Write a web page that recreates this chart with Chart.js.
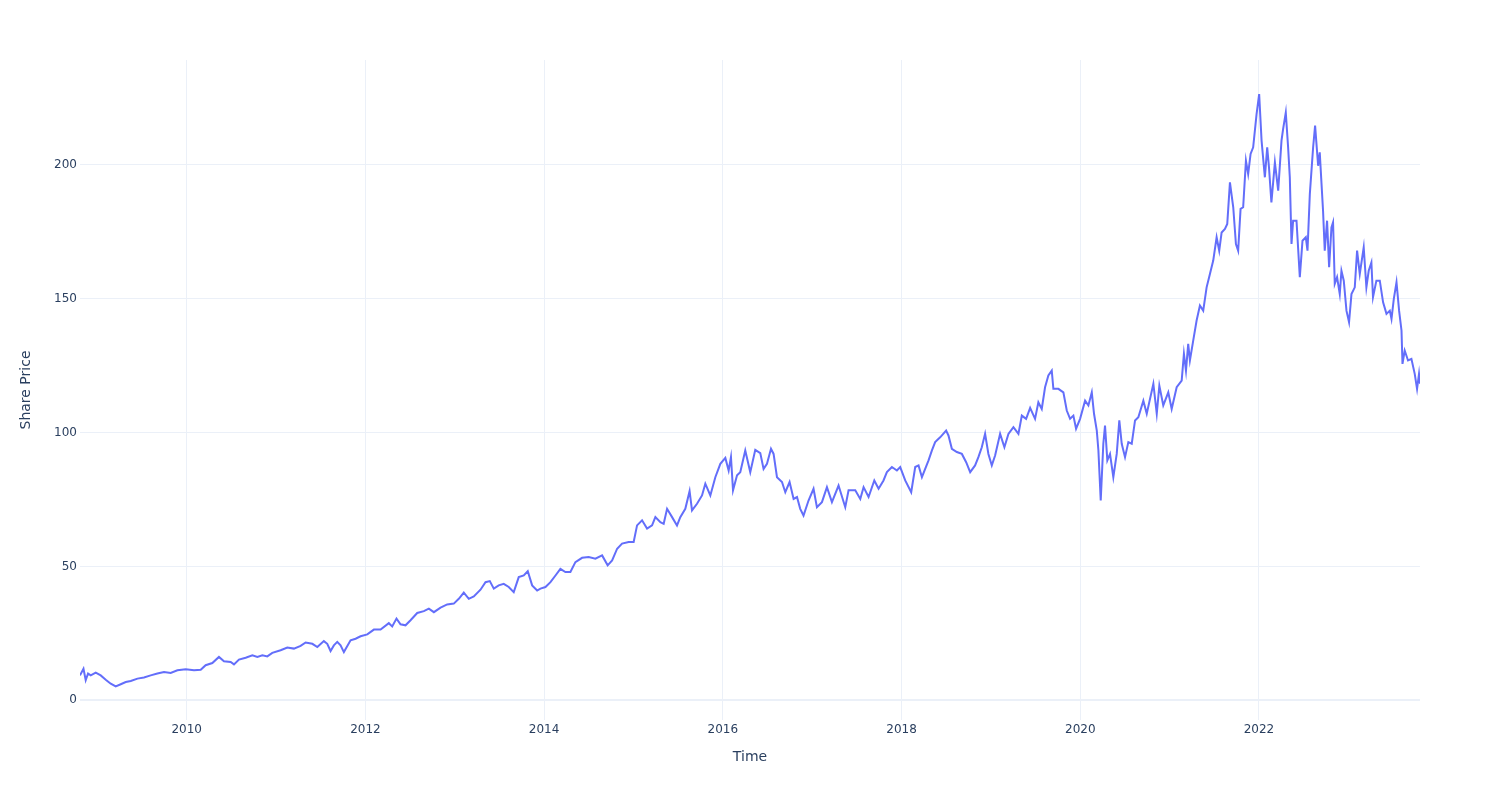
<!DOCTYPE html>
<html>
<head>
<meta charset="utf-8">
<script src="https://cdn.jsdelivr.net/npm/chart.js@4/dist/chart.umd.min.js"></script>
<style>
  html, body { margin: 0; padding: 0; background: #fff; }
</style>
</head>
<body>
<canvas id="priceChart" width="1500" height="800"></canvas>
<script>
// time as decimal years, share price
const years = [
  2008.806, 2008.845, 2008.870, 2008.896, 2008.926, 2008.982, 2009.038, 2009.094, 2009.150, 2009.206,
  2009.262, 2009.318, 2009.374, 2009.449, 2009.522, 2009.597, 2009.672, 2009.746, 2009.821, 2009.896,
  2009.989, 2010.082, 2010.157, 2010.212, 2010.287, 2010.361, 2010.417, 2010.492, 2010.529, 2010.585,
  2010.660, 2010.735, 2010.791, 2010.847, 2010.902, 2010.958, 2011.051, 2011.126, 2011.200, 2011.275,
  2011.331, 2011.406, 2011.462, 2011.535, 2011.573, 2011.610, 2011.647, 2011.685, 2011.722, 2011.759,
  2011.834, 2011.890, 2011.946, 2012.021, 2012.095, 2012.170, 2012.262, 2012.300, 2012.348, 2012.393,
  2012.449, 2012.505, 2012.580, 2012.654, 2012.710, 2012.766, 2012.841, 2012.915, 2012.989, 2013.045,
  2013.101, 2013.157, 2013.213, 2013.288, 2013.344, 2013.392, 2013.437, 2013.492, 2013.548, 2013.604,
  2013.660, 2013.716, 2013.772, 2013.817, 2013.866, 2013.922, 2013.959, 2014.015, 2014.071, 2014.127,
  2014.182, 2014.238, 2014.294, 2014.350, 2014.425, 2014.499, 2014.574, 2014.649, 2014.711, 2014.761,
  2014.817, 2014.872, 2014.946, 2015.002, 2015.040, 2015.096, 2015.152, 2015.208, 2015.245, 2015.301,
  2015.338, 2015.376, 2015.432, 2015.487, 2015.524, 2015.580, 2015.628, 2015.655, 2015.711, 2015.767,
  2015.804, 2015.860, 2015.916, 2015.972, 2016.028, 2016.065, 2016.091, 2016.114, 2016.159, 2016.195,
  2016.251, 2016.307, 2016.363, 2016.419, 2016.456, 2016.494, 2016.539, 2016.568, 2016.606, 2016.662,
  2016.699, 2016.747, 2016.792, 2016.830, 2016.866, 2016.903, 2016.959, 2017.015, 2017.053, 2017.109,
  2017.165, 2017.221, 2017.295, 2017.370, 2017.407, 2017.482, 2017.538, 2017.575, 2017.631, 2017.695,
  2017.743, 2017.798, 2017.836, 2017.892, 2017.948, 2017.985, 2018.041, 2018.108, 2018.153, 2018.190,
  2018.228, 2018.302, 2018.340, 2018.376, 2018.432, 2018.499, 2018.525, 2018.563, 2018.619, 2018.675,
  2018.723, 2018.768, 2018.823, 2018.860, 2018.898, 2018.935, 2018.972, 2019.010, 2019.047, 2019.103,
  2019.151, 2019.196, 2019.252, 2019.308, 2019.346, 2019.394, 2019.439, 2019.494, 2019.531, 2019.569,
  2019.606, 2019.643, 2019.681, 2019.699, 2019.755, 2019.811, 2019.849, 2019.886, 2019.923, 2019.953,
  2019.998, 2020.054, 2020.091, 2020.129, 2020.154, 2020.185, 2020.203, 2020.229, 2020.258, 2020.277,
  2020.303, 2020.333, 2020.370, 2020.408, 2020.437, 2020.464, 2020.501, 2020.538, 2020.576, 2020.613,
  2020.650, 2020.706, 2020.744, 2020.818, 2020.856, 2020.885, 2020.929, 2020.985, 2021.023, 2021.079,
  2021.135, 2021.160, 2021.183, 2021.208, 2021.227, 2021.264, 2021.302, 2021.339, 2021.376, 2021.414,
  2021.451, 2021.488, 2021.526, 2021.555, 2021.582, 2021.619, 2021.645, 2021.675, 2021.712, 2021.742,
  2021.767, 2021.794, 2021.823, 2021.854, 2021.879, 2021.906, 2021.935, 2021.973, 2022.002, 2022.029,
  2022.066, 2022.092, 2022.112, 2022.139, 2022.178, 2022.215, 2022.252, 2022.270, 2022.300, 2022.326,
  2022.345, 2022.364, 2022.382, 2022.420, 2022.457, 2022.487, 2022.524, 2022.543, 2022.569, 2022.606,
  2022.628, 2022.662, 2022.680, 2022.717, 2022.736, 2022.762, 2022.785, 2022.811, 2022.829, 2022.848,
  2022.874, 2022.904, 2022.923, 2022.949, 2022.979, 2023.008, 2023.035, 2023.072, 2023.098, 2023.128,
  2023.172, 2023.202, 2023.228, 2023.258, 2023.276, 2023.314, 2023.352, 2023.389, 2023.427, 2023.464,
  2023.483, 2023.509, 2023.539, 2023.568, 2023.595, 2023.606, 2023.631, 2023.668, 2023.706, 2023.743,
  2023.769, 2023.791, 2023.802
];

const prices = [
  9.3, 11.8, 7.5, 10.0, 9.3, 10.3, 9.3, 7.7, 6.2, 5.2,
  6.0, 6.8, 7.2, 8.1, 8.5, 9.3, 10.0, 10.6, 10.2, 11.2,
  11.6, 11.2, 11.4, 13.1, 13.9, 16.2, 14.6, 14.3, 13.4, 15.2,
  15.9, 16.8, 16.2, 16.8, 16.4, 17.7, 18.7, 19.7, 19.3, 20.3,
  21.6, 21.1, 19.9, 22.1, 21.1, 18.4, 20.5, 21.8, 20.5, 18.0,
  22.4, 23.0, 23.9, 24.6, 26.4, 26.4, 28.8, 27.6, 30.5, 28.4,
  28.0, 29.9, 32.6, 33.3, 34.2, 32.9, 34.6, 35.8, 36.1, 37.9,
  40.2, 37.9, 38.8, 41.3, 44.1, 44.5, 41.7, 42.9, 43.5, 42.3,
  40.4, 46.0, 46.6, 48.2, 42.9, 41.0, 41.7, 42.3, 44.1, 46.6,
  49.1, 47.9, 47.9, 51.6, 53.2, 53.5, 52.9, 54.1, 50.4, 52.2,
  56.6, 58.5, 59.1, 59.1, 65.3, 67.2, 64.1, 65.3, 68.4, 66.5,
  65.9, 71.5, 68.4, 65.3, 68.4, 71.5, 78.1, 70.9, 73.4, 76.5,
  80.9, 76.5, 83.3, 88.3, 90.5, 85.8, 90.8, 78.4, 84.0, 85.2,
  93.3, 85.2, 93.5, 92.3, 86.4, 88.3, 93.9, 92.0, 83.3, 81.5,
  77.7, 81.5, 75.2, 75.9, 71.5, 69.0, 74.6, 79.0, 72.1, 74.0,
  79.6, 74.0, 80.2, 72.1, 78.4, 78.4, 75.2, 79.6, 75.9, 82.1,
  79.0, 82.1, 85.2, 87.1, 85.8, 87.1, 82.1, 77.7, 87.1, 87.7,
  83.3, 89.6, 93.3, 96.4, 98.2, 100.7, 98.9, 93.9, 92.7, 92.0,
  88.9, 85.2, 87.7, 90.8, 94.5, 99.5, 92.0, 87.7, 91.4, 99.5,
  94.5, 99.5, 102.0, 99.5, 106.3, 105.1, 109.2, 105.1, 111.3, 108.8,
  116.9, 121.3, 123.1, 116.3, 116.3, 115.0, 108.2, 105.1, 106.3, 101.4,
  105.1, 111.9, 110.1, 115.0, 107.0, 100.7, 93.3, 74.6, 95.8, 102.6,
  89.6, 92.0, 83.3, 92.0, 104.5, 95.8, 90.8, 96.4, 95.8, 104.5,
  105.7, 111.9, 107.0, 118.2, 107.0, 117.5, 110.1, 115.0, 108.8, 116.9,
  119.4, 129.4, 123.1, 133.1, 126.9, 134.3, 141.8, 147.4, 145.5, 154.2,
  159.2, 164.2, 172.9, 167.9, 174.7, 176.0, 177.9, 193.4, 184.1, 170.4,
  167.9, 183.5, 184.1, 201.5, 196.5, 204.0, 206.5, 218.9, 226.4, 209.0,
  195.3, 206.5, 199.0, 185.9, 200.9, 190.3, 209.0, 213.3, 219.5, 206.5,
  195.3, 170.4, 179.1, 179.1, 158.0, 171.6, 172.9, 167.9, 189.0, 206.5,
  214.6, 199.6, 204.6, 182.8, 167.9, 179.1, 161.7, 176.6, 178.5, 155.5,
  158.0, 151.7, 160.4, 156.7, 145.5, 141.2, 151.7, 154.2, 167.9, 159.2,
  169.1, 154.2, 160.4, 163.5, 150.5, 156.7, 156.7, 148.6, 144.3, 145.5,
  142.4, 149.9, 156.1, 145.5, 138.1, 125.6, 130.6, 126.9, 127.5, 121.9,
  116.3, 121.9, 118.2
];

const xTicks = [2010, 2012, 2014, 2016, 2018, 2020, 2022];
const yTicks = [0, 50, 100, 150, 200];

const gridColor = '#ebf0f8';
const textColor = '#2a3f5f';
const fontFamily = '"DejaVu Sans", Verdana, sans-serif';

const points = years.map((t, i) => ({ x: t, y: prices[i] }));

const ctx = document.getElementById('priceChart').getContext('2d');
const priceChart = new Chart(ctx, {
    type: 'line',
    data: {
        datasets: [{
            label: 'Share Price',
            data: points,
            borderColor: '#636efa',
            borderWidth: 2,
            pointRadius: 0,
            fill: false,
            tension: 0
        }]
    },
    options: {
        responsive: false,
        animation: false,
        devicePixelRatio: 1,
        layout: {
            padding: { top: 60, right: 80, left: 0, bottom: 0 }
        },
        plugins: {
            legend: { display: false },
            tooltip: { enabled: false }
        },
        scales: {
            x: {
                type: 'linear',
                min: years[0],
                max: years[years.length - 1],
                afterBuildTicks: (scale) => { scale.ticks = xTicks.map(v => ({ value: v })); },
                afterFit: (scale) => { scale.height = 80; },
                border: { display: false },
                grid: { color: gridColor, lineWidth: 1, drawTicks: false },
                ticks: {
                    padding: 3,
                    color: textColor,
                    font: { family: fontFamily, size: 12 },
                    maxRotation: 0,
                    callback: (v) => String(v)
                },
                title: {
                    display: true,
                    text: 'Time',
                    color: textColor,
                    font: { family: fontFamily, size: 14 },
                    padding: { top: 0, bottom: 34 }
                }
            },
            y: {
                min: -7.36,
                max: 239.1,
                afterBuildTicks: (scale) => { scale.ticks = yTicks.map(v => ({ value: v })); },
                afterFit: (scale) => { scale.width = 80; },
                border: { display: false },
                grid: {
                    color: gridColor,
                    lineWidth: (c) => (c.tick && c.tick.value === 0 ? 2 : 1),
                    drawTicks: false
                },
                ticks: {
                    padding: 3,
                    color: textColor,
                    font: { family: fontFamily, size: 12 },
                    callback: (v) => String(v)
                },
                title: {
                    display: true,
                    text: 'Share Price',
                    color: textColor,
                    font: { family: fontFamily, size: 14 },
                    padding: { top: 18, bottom: 0 }
                }
            }
        }
    }
});
</script>
</body>
</html>
